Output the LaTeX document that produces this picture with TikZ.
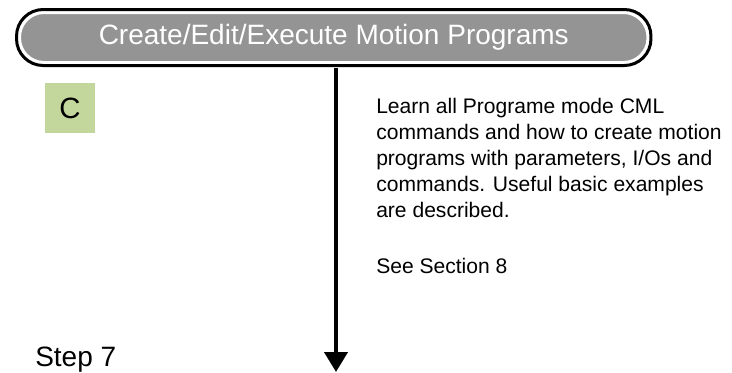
\documentclass[tikz,border=0pt]{standalone}
\usepackage{fontspec}
\setmainfont{Liberation Sans}
\usetikzlibrary{arrows.meta}
\definecolor{titlegray}{RGB}{148, 148, 148}
\definecolor{stepgreen}{RGB}{195, 214, 155}
\tikzset{
  titlebar/.style={draw=white, line width=1.5pt, fill=titlegray, rounded corners=18pt,
    minimum width=470.6pt, minimum height=36.75pt, inner sep=0pt, text=white,
    font=\fontsize{21}{25}\selectfont},
  titlerim/.style={draw=black, line width=2.25pt, rounded corners=20pt},
  stepbox/.style={fill=stepgreen, minimum width=37.5pt, minimum height=37.5pt, inner sep=0pt,
    font=\fontsize{22}{26}\selectfont},
  bodytext/.style={anchor=base west, inner sep=0pt, align=left,
    font=\fontsize{15.8}{19.35}\selectfont},
  flowarrow/.style={line width=3pt, -{Triangle[width=17.25pt, length=15pt]}, shorten <=3.5pt}
}
\begin{document}
\begin{tikzpicture}[x=0.75pt, y=-0.75pt]
\useasboundingbox (0, 0) rectangle (732, 372);
% heading bar
\node[titlebar] (title) at (333.75, 37.5) {Create/Edit/Execute Motion Programs\hspace{8pt}};
\draw[titlerim] ([shift={(-2.5, -2.5)}]title.north west) rectangle ([shift={(2.5, 2.5)}]title.south east);
\node[stepbox] (stepc) at (70, 108) {C};
% base anchor sits on the last line here
\node[bodytext] (desc) at (376, 217) {Learn all Programe mode CML\\commands and how to create motion\\programs with parameters, I/Os and\\commands. Useful basic examples\\are described.};
\node[bodytext] (seesec) at (376, 273) {See Section 8};
\node[anchor=base west, inner sep=0pt, font=\fontsize{21}{25}\selectfont] (steplabel) at (35, 366) {Step 7};
\coordinate (arrowend) at (336, 372);
\draw[flowarrow] (title.south -| arrowend) -- (arrowend);
\end{tikzpicture}
\end{document}
